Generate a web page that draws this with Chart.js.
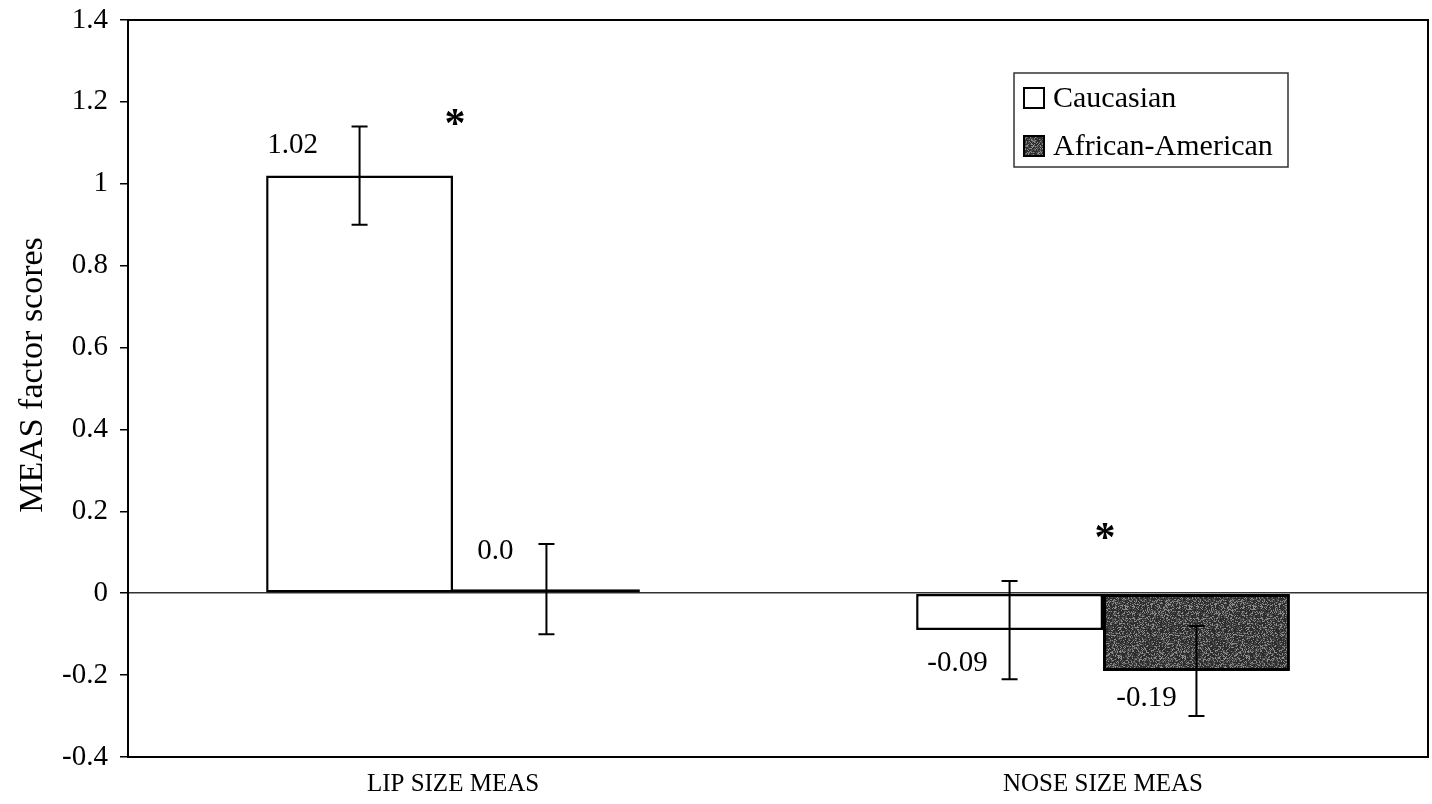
<!DOCTYPE html>
<html><head><meta charset="utf-8">
<script src="https://cdn.jsdelivr.net/npm/chart.js@4"></script>
<style>html,body{margin:0;padding:0;background:#fff}#wrap{width:1432px;height:804px}</style>
</head><body><div id="wrap"><canvas id="c" width="1432" height="804"></canvas></div>
<script>
const categories = ["LIP SIZE MEAS", "NOSE SIZE MEAS"];
const seriesNames = ["Caucasian", "African-American"];
const caucasian = [1.02, -0.09];
const africanAmerican = [0.01, -0.19];
const caucasianErr = [0.12, 0.12];
const africanAmericanErr = [0.11, 0.11];
const valueLabels = [["1.02", "-0.09"], ["0.0", "-0.19"]];
const significanceY = [1.16, 0.15];
const yTicks = [1.4, 1.2, 1, 0.8, 0.6, 0.4, 0.2, 0, -0.2, -0.4];
const yTitle = "MEAS factor scores";

const FONT = "'Liberation Serif', 'Times New Roman', serif";
const errors = [caucasianErr, africanAmericanErr];
// pixel offsets for value labels relative to bar centre/value [dx, dy]
const labelOffsets = [[[-67, -30], [-52, 33]], [[-51, -38], [-50, 27]]];

// speckled dark-grey texture (deterministic)
function makeTexture() {
  const c = document.createElement('canvas'); c.width = 64; c.height = 64;
  const g = c.getContext('2d');
  const img = g.createImageData(64, 64);
  for (let i = 0; i < 64 * 64; i++) {
    const h = Math.abs(Math.sin(i * 12.9898 + 78.233) * 43758.5453) % 1;
    const v = h > 0.8 ? 140 : (h > 0.55 ? 85 : 45);
    img.data[i * 4] = v; img.data[i * 4 + 1] = v; img.data[i * 4 + 2] = v; img.data[i * 4 + 3] = 255;
  }
  g.putImageData(img, 0, 0);
  return g.createPattern(c, 'repeat');
}
const texture = makeTexture();

const plotFrame = {
  id: 'plotFrame',
  afterDatasetsDraw(chart) {
    const ctx = chart.ctx, a = chart.chartArea, y = chart.scales.y;
    ctx.save();
    chart.data.datasets.forEach((ds, di) => {
      const meta = chart.getDatasetMeta(di);
      meta.data.forEach((bar, i) => {
        const v = ds.data[i], e = errors[di][i];
        const yt = y.getPixelForValue(v + e), yb = y.getPixelForValue(v - e);
        ctx.strokeStyle = '#000'; ctx.lineWidth = 2;
        ctx.beginPath();
        ctx.moveTo(bar.x, yt); ctx.lineTo(bar.x, yb);
        ctx.moveTo(bar.x - 8, yt); ctx.lineTo(bar.x + 8, yt);
        ctx.moveTo(bar.x - 8, yb); ctx.lineTo(bar.x + 8, yb);
        ctx.stroke();
        const off = labelOffsets[di][i];
        ctx.fillStyle = '#000';
        ctx.font = "29px " + FONT;
        ctx.textAlign = 'center'; ctx.textBaseline = 'middle';
        ctx.fillText(valueLabels[di][i], bar.x + off[0], y.getPixelForValue(v) + off[1]);
      });
    });
    const x = chart.scales.x;
    ctx.font = "bold 42px " + FONT;
    ctx.textAlign = 'center'; ctx.textBaseline = 'middle';
    significanceY.forEach((sv, i) => {
      ctx.fillText('*', x.getPixelForValue(i) + 2, y.getPixelForValue(sv) + 8);
    });
    ctx.strokeStyle = '#000'; ctx.lineWidth = 2;
    ctx.beginPath();
    ctx.moveTo(a.left, a.top); ctx.lineTo(a.right, a.top); ctx.lineTo(a.right, a.bottom);
    ctx.stroke();
    // y-axis title
    ctx.save();
    ctx.translate(33, 375); ctx.rotate(-Math.PI / 2);
    ctx.font = "34px " + FONT; ctx.fillStyle = '#000';
    ctx.textAlign = 'center'; ctx.textBaseline = 'middle';
    ctx.fillText(yTitle, 0, 0);
    ctx.restore();
    // legend box
    const lx = 1014, ly = 73, lw = 274, lh = 94;
    ctx.fillStyle = '#fff'; ctx.fillRect(lx, ly, lw, lh);
    ctx.lineWidth = 1.5; ctx.strokeStyle = '#333';
    ctx.strokeRect(lx, ly, lw, lh);
    ctx.font = "30px " + FONT; ctx.textAlign = 'left'; ctx.textBaseline = 'middle';
    chart.data.datasets.forEach((ds, di) => {
      const cy = ly + 25 + di * 48;
      ctx.fillStyle = ds.backgroundColor;
      ctx.fillRect(lx + 10, cy - 10, 20, 20);
      ctx.strokeStyle = '#000'; ctx.lineWidth = 2;
      ctx.strokeRect(lx + 10, cy - 10, 20, 20);
      ctx.fillStyle = '#000';
      ctx.fillText(ds.label, lx + 39, cy + 1);
    });
    ctx.restore();
  }
};

new Chart(document.getElementById('c'), {
  type: 'bar',
  data: {
    labels: categories,
    datasets: [
      { label: seriesNames[0], data: caucasian, backgroundColor: '#ffffff', borderColor: '#000', borderWidth: 2.5, borderSkipped: false },
      { label: seriesNames[1], data: africanAmerican, backgroundColor: texture, borderColor: '#000', borderWidth: 3, borderSkipped: false }
    ]
  },
  options: {
    responsive: false,
    animation: false,
    devicePixelRatio: 1,
    categoryPercentage: 0.575,
    barPercentage: 1.0,
    layout: { padding: { top: 20, right: 4, left: 0, bottom: 0 } },
    plugins: { legend: { display: false }, tooltip: { enabled: false } },
    scales: {
      x: {
        grid: { display: false },
        border: { display: true, color: '#000', width: 2 },
        ticks: { color: '#000', font: { family: FONT, size: 25 }, padding: 4, maxRotation: 0 },
        afterFit(s) { s.height = 47; }
      },
      y: {
        min: -0.4, max: 1.4,
        afterBuildTicks(s) { s.ticks = yTicks.map(v => ({ value: v })); },
        grid: {
          color: ctx => ctx.tick && ctx.tick.value === 0 ? '#333' : 'rgba(0,0,0,0)',
          lineWidth: 1.5,
          tickColor: '#000', tickLength: 8, drawTicks: true
        },
        border: { display: true, color: '#000', width: 2 },
        ticks: {
          color: '#000', font: { family: FONT, size: 29 }, padding: 12,
          callback: v => String(Math.round(v * 10) / 10)
        },
        title: { display: false },
        afterFit(s) { s.width = 128; s.paddingTop = 0; s.paddingBottom = 0; }
      }
    }
  },
  plugins: [plotFrame]
});
</script>
</body></html>
